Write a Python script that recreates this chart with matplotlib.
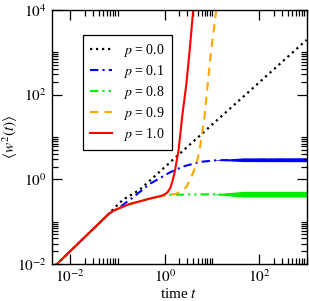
import numpy as np
import matplotlib
matplotlib.use('Agg')
import matplotlib.pyplot as plt
from matplotlib.ticker import FixedLocator, FuncFormatter, NullFormatter

plt.rcParams['font.family'] = ['Liberation Serif', 'DejaVu Serif']
plt.rcParams['mathtext.fontset'] = 'stix'

# values (time t, <w^2(t)>)
t_p00 = [0.004, 0.0052, 0.066, 0.089, 0.13, 0.29, 0.67, 1.0, 10.0, 100.0, 1000.0]
w_p00 = [0.0074, 0.01, 0.155, 0.22, 0.33, 0.56, 1.3, 1.95, 19.5, 195.0, 1950.0]

t_p01 = [0.004, 0.0052, 0.066, 0.112, 0.215, 0.48, 1.27, 2.43, 5.46, 12.6, 100.0, 1000.0]
w_p01 = [0.0074, 0.01, 0.155, 0.22, 0.38, 0.78, 1.45, 2.0, 2.57, 2.82, 2.88, 2.88]

t_p08 = [0.004, 0.0052, 0.066, 0.089, 0.18, 0.48, 0.91, 1.26, 5.0, 100.0, 1000.0]
w_p08 = [0.0074, 0.01, 0.155, 0.19, 0.26, 0.35, 0.41, 0.43, 0.44, 0.44, 0.44]

t_p09 = [0.004, 0.0052, 0.066, 0.089, 0.18, 0.48, 0.91, 1.78, 2.88, 3.63, 4.68, 5.5, 6.9, 8.1, 9.55, 12.3]
w_p09 = [0.0074, 0.01, 0.155, 0.19, 0.26, 0.35, 0.41, 0.457, 0.66, 1.12, 2.34, 5.25, 29.5, 182, 1100, 10000]

t_p10 = [0.004, 0.0052, 0.066, 0.089, 0.18, 0.48, 0.8, 1.0, 1.15, 1.3, 1.45, 1.62, 1.95, 2.34, 2.86, 3.39, 3.98]
w_p10 = [0.0074, 0.01, 0.155, 0.19, 0.26, 0.35, 0.40, 0.44, 0.50, 0.62, 0.9, 1.5, 4.8, 32, 182, 1260, 10000]

# spread of the noisy plateaus at long times
t_band = [10.0, 20.0, 45.0, 1000.0]
p01_lo = [2.88, 2.75, 2.62, 2.6]
p01_hi = [2.88, 3.02, 3.2, 3.22]
p08_lo = [0.44, 0.41, 0.38, 0.38]
p08_hi = [0.44, 0.48, 0.52, 0.52]

fig = plt.figure(figsize=(3.09, 3.01), dpi=100)
ax = fig.add_axes([0.167, 0.123, 0.825, 0.844])

ax.plot(t_p00, w_p00, color='black', lw=1.6, ls=(0, (1, 1.7)), label='$p$ = 0.0')
ax.plot(t_p01, w_p01, color='#0000ff', lw=1.5, ls=(0, (4, 2, 1, 2)), label='$p$ = 0.1')
ax.fill_between(t_band, p01_lo, p01_hi, color='#0000ff', lw=0)
ax.plot(t_p08, w_p08, color='#00ee00', lw=1.5, ls=(0, (4, 2, 1, 2, 1, 2)), label='$p$ = 0.8')
ax.fill_between(t_band, p08_lo, p08_hi, color='#00ee00', lw=0)
ax.plot(t_p09, w_p09, color='#ffa500', lw=1.5, ls=(0, (4, 3)), label='$p$ = 0.9')
ax.plot(t_p10, w_p10, color='#ff0000', lw=1.5, label='$p$ = 1.0')

ax.set_xscale('log')
ax.set_yscale('log')
ax.set_xlim(0.004, 1000)
ax.set_ylim(1e-2, 1e4)

fmt = FuncFormatter(lambda v, pos: '$10^{%d}$' % int(round(np.log10(v))))
ax.xaxis.set_major_locator(FixedLocator([1e-2, 1e0, 1e2]))
ax.yaxis.set_major_locator(FixedLocator([1e-2, 1e0, 1e2, 1e4]))
minors = [k * 10.0 ** n for n in range(-4, 5, 2) for k in range(2, 11)]
ax.xaxis.set_minor_locator(FixedLocator(minors))
ax.yaxis.set_minor_locator(FixedLocator(minors))
ax.xaxis.set_major_formatter(fmt)
ax.yaxis.set_major_formatter(fmt)
ax.xaxis.set_minor_formatter(NullFormatter())
ax.yaxis.set_minor_formatter(NullFormatter())
ax.tick_params(which='both', direction='in', top=True, right=True, labelsize=11, width=0.9)
ax.tick_params(which='major', length=7)
ax.tick_params(which='minor', length=4)
for s in ax.spines.values():
    s.set_linewidth(1.0)

ax.set_xlabel('time $t$', fontsize=11, labelpad=1)
ax.set_ylabel(r'$\langle w^2(t)\rangle$', fontsize=11)
ax.yaxis.set_label_coords(-0.125, 0.5)

leg = ax.legend(loc='upper left', bbox_to_anchor=(0.095, 0.93), fontsize=10,
                handlelength=1.6, handletextpad=0.8, labelspacing=0.3,
                borderpad=0.5, fancybox=False, edgecolor='black', framealpha=1)
leg.get_frame().set_linewidth(0.9)

fig.savefig('out.png', dpi=100)
